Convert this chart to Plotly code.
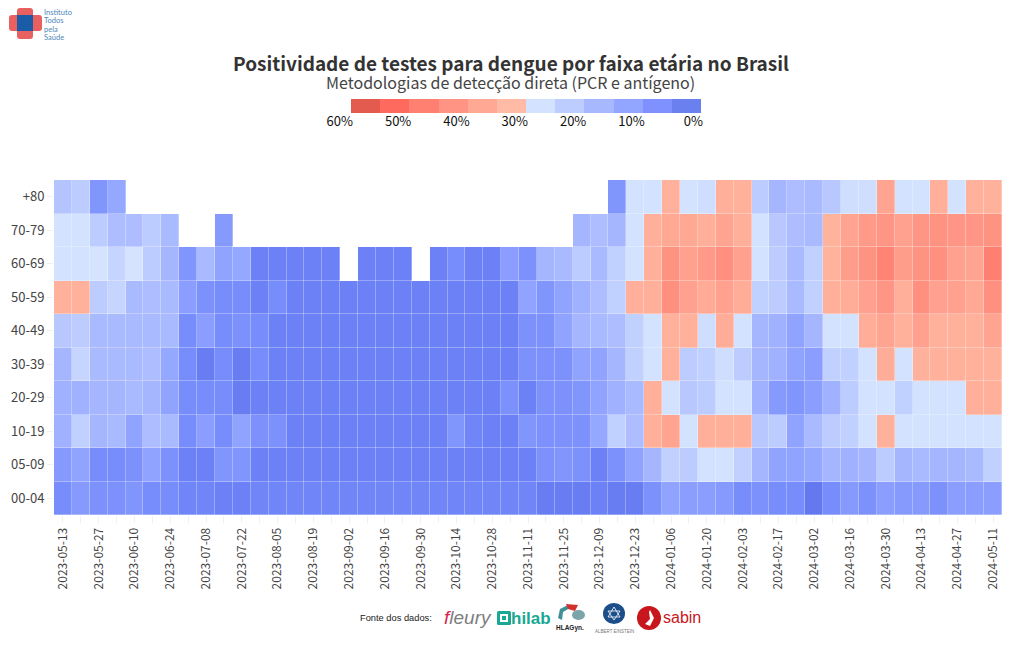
import datetime as dt
import plotly.graph_objects as go

N = None
dates = [(dt.date(2023, 5, 13) + dt.timedelta(days=7 * i)).isoformat() for i in range(53)]
ages = ["00-04", "05-09", "10-19", "20-29", "30-39", "40-49", "50-59", "60-69", "70-79", "+80"]

row_00_04 = [6,9,7,7,8,6,6,4,4,3,3,4,4,4,4,4,4,4,4,4,4,4,4,4,4,4,4,2,2,2,3,2,2,7,11,10,10,9,6,7,6,6,1,6,9,7,10,9,9,7,10,10,10]
row_05_09 = [9,11,6,6,7,11,7,3,3,8,8,3,3,3,3,3,3,3,3,3,3,3,3,3,3,3,3,7,8,7,3,7,11,15,22,21,26,26,22,15,11,11,12,15,14,15,21,15,16,15,15,16,22]
row_10_19 = [14,22,15,16,11,17,16,6,10,6,11,7,7,3,3,3,3,3,3,3,3,3,8,4,3,3,8,7,7,7,12,22,17,33,37,26,33,33,33,20,21,11,16,21,22,26,32,26,26,26,26,26,26]
row_20_29 = [14,14,15,15,16,15,11,6,6,6,2,3,3,3,3,3,3,3,3,3,3,3,3,3,3,7,3,7,7,8,11,14,16,33,26,20,21,26,26,14,9,8,10,14,21,26,26,22,26,26,26,33,33]
row_30_39 = [15,23,16,16,16,17,12,6,2,6,2,6,3,3,3,3,3,3,3,3,3,3,3,3,3,3,7,7,7,11,11,15,22,26,32,21,22,25,21,15,14,11,10,22,22,26,34,26,32,32,32,32,32]
row_40_49 = [20,21,16,16,16,16,16,6,10,6,7,6,3,3,3,3,3,3,3,3,3,3,3,3,3,3,7,7,11,15,16,17,22,26,32,32,25,34,26,15,14,11,15,26,26,34,37,32,38,32,32,32,37]
row_50_59 = [32,32,21,23,16,17,16,10,7,6,6,3,6,3,3,3,3,3,3,3,3,3,3,3,3,3,11,8,11,14,17,22,33,33,43,38,35,38,34,22,21,16,22,33,34,38,41,33,43,38,38,36,43]
row_60_69 = [26,26,26.5,23,26.5,21,15,8,16,11,12,3,3,3,3,3,N,3,3,3,N,3,6,3,3,10,7,15,16,21,16,22,26,33,42,38,40,43,38,26,21,16,22,31,39,42,46,39,42,43,38,37,47]
row_70_79 = [26,26,21,17,17,21,16,N,N,9,N,N,N,N,N,N,N,N,N,N,N,N,N,N,N,N,N,N,N,15,17,15,26,33,36,36,33,37,33,26,20,17,16,31,37,40,41,38,41,42,41,41,42]
row_80 = [19,21,8,12,N,N,N,N,N,N,N,N,N,N,N,N,N,N,N,N,N,N,N,N,N,N,N,N,N,N,N,8,26,26,32,26,25,33,32,21,15,17,16,20,25,25,37,26,26,33,26,32,32]
matrix = [row_00_04, row_05_09, row_10_19, row_20_29, row_30_39, row_40_49, row_50_59, row_60_69, row_70_79, row_80]

scale_stops = [[0, "#6075ec"], [5/60, "#7389fb"], [10/60, "#8b9eff"], [15/60, "#a5b6ff"], [20/60, "#b8c8ff"],
               [26/60, "#d3e2ff"], [27.5/60, "#d9e6ff"], [28/60, "#ffb9a3"], [35/60, "#ffab96"], [40/60, "#ff9a88"],
               [45/60, "#ff8878"], [50/60, "#ff7464"], [55/60, "#f0665a"], [1, "#e05a4e"]]

legend_bands = [57.5, 52.5, 47.5, 42.5, 37.5, 32.5, 27.5, 22.5, 17.5, 12.5, 7.5, 2.5]
legend_colors = ["#e35b4f", "#ff6a5e", "#ff8070", "#ff9484", "#ffa995", "#ffbba6",
                 "#d3e2ff", "#bdcdff", "#a8b8ff", "#93a6ff", "#7f91ff", "#6b80ef"]
legend_ticks = [60, 50, 40, 30, 20, 10, 0]
legend_labels = ["60%", "50%", "40%", "30%", "20%", "10%", "0%"]

title_text = "Positividade de testes para dengue por faixa etária no Brasil"
subtitle_text = "Metodologias de detecção direta (PCR e antígeno)"
logo_lines = ["Instituto", "Todos", "pela", "Saúde"]
FONT = "Noto Sans CJK JP"

fig = go.Figure()
fig.add_trace(go.Heatmap(x=dates, y=ages, z=matrix, zmin=0, zmax=60, colorscale=scale_stops, showscale=False,
                         xgap=0.3, ygap=0.3, hoverongaps=False))

n = len(legend_bands)
disc = []
for i, c in enumerate(legend_colors):
    disc += [[i / n, c], [(i + 1) / n, c]]
fig.add_trace(go.Heatmap(x=legend_bands, y=[0], z=[list(range(n))], colorscale=disc, zmin=-0.5, zmax=n - 0.5,
                         showscale=False, xaxis="x2", yaxis="y2", hoverinfo="skip"))

# page coordinates: the page body has an 8 px margin
TOP = 99
BOTTOM = 515
H = BOTTOM - TOP
px = lambda v: (v - 54) / 948
py = lambda v: (BOTTOM - v) / H

fig.update_layout(
    width=1020, height=650, autosize=False,
    margin=dict(l=46, r=26, t=TOP - 8, b=650 - (BOTTOM - 8)),
    paper_bgcolor="white", plot_bgcolor="white",
    font=dict(family=FONT, size=13, color="#444"),
    title=dict(text=f"<b>{title_text}</b>", x=px(511), xanchor="center", xref="paper", y=1 - 56 / 650, yanchor="middle",
               font=dict(family=FONT, size=19, color="#333")),
    xaxis=dict(type="category", automargin=False, domain=[0, 1], tickmode="array", tickvals=dates,
               ticktext=[d if i % 2 == 0 else "" for i, d in enumerate(dates)],
               tickangle=-90, ticks="outside", ticklen=7, tickcolor="#f0f0f0", showgrid=False, zeroline=False,
               tickfont=dict(size=12, color="#444")),
    yaxis=dict(type="category", automargin=False, categoryorder="array", categoryarray=ages, domain=[0, py(180)],
               ticks="outside", ticklen=6, tickcolor="#f0f0f0", showgrid=False, zeroline=False,
               tickfont=dict(size=13, color="#444")),
    xaxis2=dict(automargin=False, domain=[px(351), px(701)], anchor="y2", range=[60, 0], tickmode="array",
                tickvals=legend_ticks, ticktext=legend_labels, ticks="", showgrid=False, zeroline=False,
                ticklabelposition="outside left", ticklabelshift=-2, ticklabelstandoff=-1, tickangle=0,
                tickfont=dict(size=13, color="#111")),
    yaxis2=dict(automargin=False, domain=[py(113), 1], anchor="x2", range=[-0.5, 0.5],
                showticklabels=False, ticks="", showgrid=False, zeroline=False),
)

fig.add_annotation(text=subtitle_text, xref="paper", yref="paper", x=px(510), y=py(82), xanchor="center",
                   yanchor="middle", showarrow=False, font=dict(family=FONT, size=16, color="#444"))

def rrect(x0, y0, x1, y1, r, color):
    X0, X1, Xa, Xb = px(x0), px(x1), px(x0 + r), px(x1 - r)
    Y0, Y1, Ya, Yb = py(y0), py(y1), py(y0 + r), py(y1 - r)
    path = (f"M {Xa} {Y0} L {Xb} {Y0} Q {X1} {Y0} {X1} {Ya} L {X1} {Yb} Q {X1} {Y1} {Xb} {Y1} "
            f"L {Xa} {Y1} Q {X0} {Y1} {X0} {Yb} L {X0} {Ya} Q {X0} {Y0} {Xa} {Y0} Z")
    fig.add_shape(type="path", xref="paper", yref="paper", path=path, fillcolor=color, line=dict(width=0), layer="above")

def circle(x0, y0, x1, y1, color):
    fig.add_shape(type="circle", xref="paper", yref="paper", x0=px(x0), x1=px(x1), y0=py(y1), y1=py(y0),
                  fillcolor=color, line=dict(width=0), layer="above")

def poly(points, color, filled=True, width=1):
    path = "M " + " L ".join(f"{px(a)} {py(b)}" for a, b in points) + (" Z" if filled else "")
    fig.add_shape(type="path", xref="paper", yref="paper", path=path, fillcolor=color if filled else None,
                  line=dict(width=0 if filled else width, color=color), layer="above")

# Instituto Todos pela Saúde mark
rrect(9, 15, 42, 31, 3, "#e8605f")
rrect(17, 8, 33, 39, 3, "#e8605f")
rrect(17, 15, 33, 31, 0, "#1a5ca8")
for line, y in zip(logo_lines, [12.5, 20.8, 29.1, 37.4]):
    fig.add_annotation(text=line, xref="paper", yref="paper", x=px(43), y=py(y), xanchor="left", yanchor="middle",
                       align="left", showarrow=False, borderpad=0, font=dict(family="Lato", size=7.5, color="#4f86b8"))

# sources
rrect(497, 611, 511, 625, 1.5, "#19a894")
rrect(500, 614, 508, 622, 0, "#ffffff")
rrect(502, 616, 506, 620, 0, "#19a894")
poly([(558, 618), (560, 609), (568, 605), (570, 608), (563, 612), (562, 620)], "#3f8f97")
poly([(566, 604), (578, 605), (575, 611), (568, 609)], "#d0312d")
circle(572, 610, 585, 620, "#7aa4aa")
circle(603, 603, 625, 624, "#1c4f8a")
poly([(614, 607), (620, 617), (608, 617), (614, 607)], "#ffffff", filled=False, width=0.8)
poly([(614, 620), (608, 611), (620, 611), (614, 620)], "#ffffff", filled=False, width=0.8)
circle(637, 606, 661, 630, "#c8161d")
poly([(650, 610), (654, 618), (650, 626), (645, 624), (650, 619), (649, 612)], "#ffffff")

sources = [
    ("Fonte dos dados:", 358, 618, 9.3, "#222", "Liberation Sans"),
    ("<i><span style='color:#d9264f'>f</span>leury</i>", 442, 617, 19, "#7d7d7d", "Liberation Sans"),
    ("<b>hilab</b>", 509, 618, 17, "#19a894", "Liberation Sans"),
    ("<b>HLAGyn.</b>", 554, 628, 6.5, "#222", "Liberation Sans"),
    ("ALBERT EINSTEIN", 593, 631, 4.5, "#777", "Liberation Sans"),
    ("sabin", 661, 617, 16, "#c8161d", "Liberation Sans"),
]
for t, x, y, s, c, f in sources:
    fig.add_annotation(text=t, xref="paper", yref="paper", x=px(x), y=py(y), xanchor="left",
                       yanchor="middle", showarrow=False, font=dict(family=f, size=s, color=c))

fig.write_html("out.html")
